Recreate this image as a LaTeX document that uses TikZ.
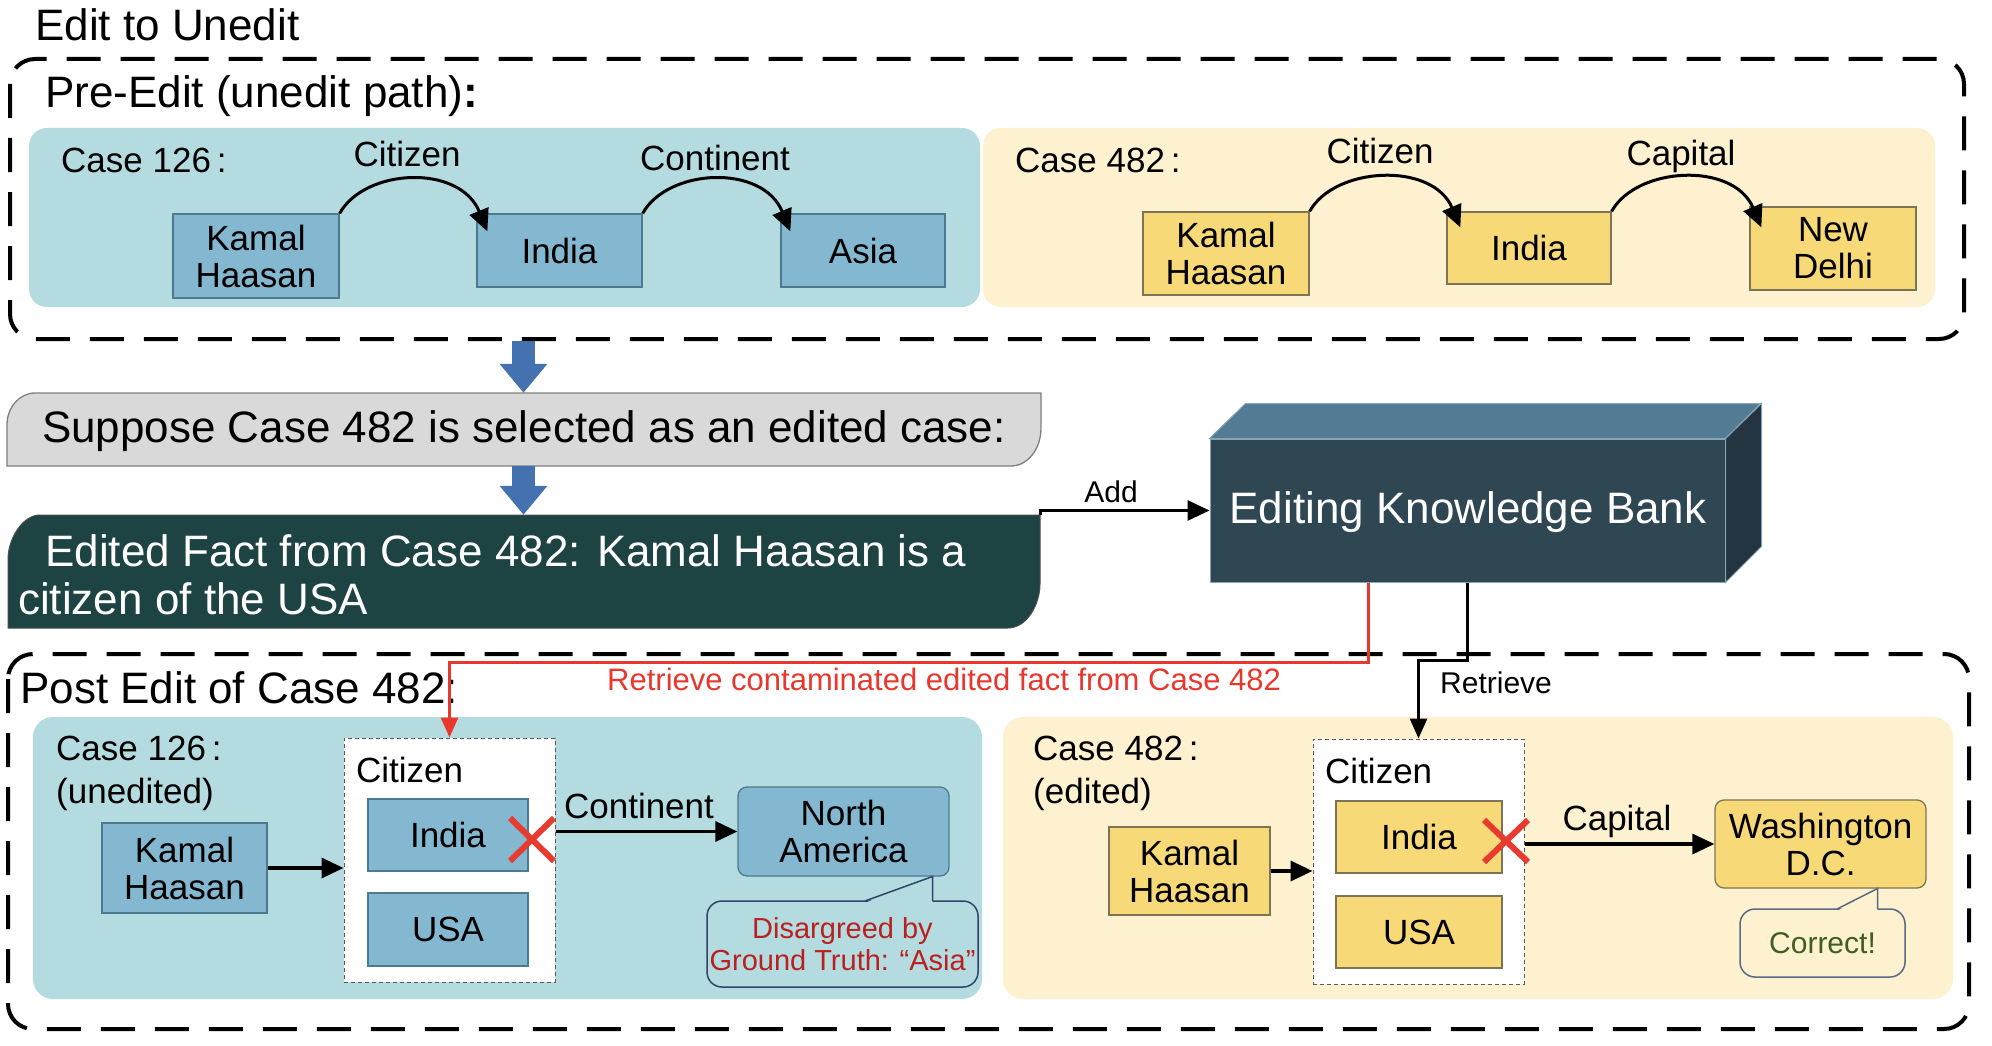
\documentclass[tikz,border=0pt]{standalone}
\usepackage{fontspec}
\setmainfont{Liberation Sans}
\usetikzlibrary{arrows.meta}
\definecolor{bluepanel}{HTML}{B4DCE0}
\definecolor{bluenode}{HTML}{84B8D0}
\definecolor{bluedge}{HTML}{4E7A90}
\definecolor{yelpanel}{HTML}{FDF1CF}
\definecolor{yelnode}{HTML}{F8D978}
\definecolor{yeledge}{HTML}{7F7355}
\definecolor{greyfill}{HTML}{D9D9D9}
\definecolor{greyedge}{HTML}{7F7F7F}
\definecolor{darkteal}{HTML}{1D4343}
\definecolor{cubefront}{HTML}{2F4653}
\definecolor{cubetop}{HTML}{537B94}
\definecolor{cuberight}{HTML}{233540}
\definecolor{arrowblue}{HTML}{4472B0}
\definecolor{lineredc}{HTML}{E8382D}
\definecolor{xred}{HTML}{E63B2E}
\definecolor{txtred}{HTML}{B8211F}
\definecolor{txtgreen}{HTML}{3E5E22}
\definecolor{callblue}{HTML}{2E4468}
\definecolor{callgrey}{HTML}{5A6A85}
\newcommand\myfbig{\fontsize{44}{50}\selectfont}
\newcommand\myfnode{\fontsize{35}{37}\selectfont}
\newcommand\myfcase{\fontsize{35}{43}\selectfont}
\newcommand\myflab{\fontsize{31}{34}\selectfont}
\newcommand\myfsmall{\fontsize{30}{32}\selectfont}
\newcommand\myfcall{\fontsize{29}{32}\selectfont}
\begin{document}
\begin{tikzpicture}[x=1pt,y=-1pt,
  bnode/.style={draw=bluedge, fill=bluenode, line width=1.3pt, inner sep=0pt, align=center, font=\myfnode},
  ynode/.style={draw=yeledge, fill=yelnode, line width=1.3pt, inner sep=0pt, align=center, font=\myfnode},
  dbox/.style={draw=black!65, fill=white, line width=1pt, dash pattern=on 4pt off 3pt, inner sep=0pt},
  outerdash/.style={line width=4pt, dash pattern=on 34pt off 20pt, rounded corners=25pt},
  arcarrow/.style={line width=3pt, -{Triangle[length=22pt,width=20pt]}},
  conn/.style={line width=3.5pt, -{Triangle[length=22pt,width=20pt]}},
  thinconn/.style={line width=3pt, -{Triangle[length=20pt,width=17pt]}},
  bigarrow/.style={line width=23pt, arrowblue, -{Triangle[length=29pt,width=46pt]}},
  txt/.style={inner sep=0pt},
  crossx/.style={xred, line width=6pt}
]
\useasboundingbox (0,0) rectangle (1992,1046);
\fill[white] (0,0) rectangle (1992,1046);

% ---------- title and top dashed frame ----------
\node[txt, anchor=base west, font=\myfbig] (title) at (35,41) {Edit to Unedit};
\draw[outerdash] (10,59) rectangle (1964,339);
\node[txt, anchor=base west, font=\myfbig] (pre) at (45,108) {Pre-Edit (unedit path)\textbf{:}};

% panels
\fill[bluepanel, rounded corners=18pt] (29,128) rectangle (980,307);
\fill[yelpanel, rounded corners=18pt] (983,128) rectangle (1935,307);

% top-left case
\node[txt, anchor=base west, font=\myfcase] (case126a) at (61,172) {Case 126\,:};
\node[bnode, minimum width=166pt, minimum height=84pt] (k1) at (256,256) {Kamal\\Haasan};
\node[bnode, minimum width=165pt, minimum height=73pt] (i1) at (559.5,250.5) {India};
\node[bnode, minimum width=164pt, minimum height=73pt] (a1) at (863,250.5) {Asia};
\draw[arcarrow] (k1.north east) .. controls +(25,-45) and +(-28,-68) .. ([xshift=11pt,yshift=-18pt]i1.north west);
\draw[arcarrow] (i1.north east) .. controls +(25,-45) and +(-28,-68) .. ([xshift=10pt,yshift=-18pt]a1.north west);
\node[txt, anchor=base, font=\myfnode] (cit1) at (407,167) {Citizen};
\node[txt, anchor=base, font=\myfnode] (cont1) at (715,171) {Continent};

% top-right case
\node[txt, anchor=base west, font=\myfcase] (case482a) at (1015,172) {Case 482\,:};
\node[ynode, minimum width=166pt, minimum height=83pt] (k2) at (1226,253.5) {Kamal\\Haasan};
\node[ynode, minimum width=164pt, minimum height=72pt] (i2) at (1529,248) {India};
\node[ynode, minimum width=166pt, minimum height=83pt] (n2) at (1833,248.5) {New\\Delhi};
\draw[arcarrow] (k2.north east) .. controls +(25,-45) and +(-28,-66) .. ([xshift=14pt,yshift=-16pt]i2.north west);
\draw[arcarrow] (i2.north east) .. controls +(25,-45) and +(-28,-66) .. ([xshift=12pt,yshift=-21pt]n2.north west);
\node[txt, anchor=base, font=\myfnode] (cit2) at (1380,164) {Citizen};
\node[txt, anchor=base, font=\myfnode] (cap2) at (1681,165) {Capital};

% ---------- suppose box ----------
\path[draw=greyedge, fill=greyfill, line width=1.3pt]
  (7,466) -- (7,425) .. controls (7,407.3) and (19.5,393) .. (35,393)
  -- (1041,393) -- (1041,428) .. controls (1041,449) and (1027.6,466) .. (1011,466) -- cycle;
\node[txt, minimum width=1034pt, minimum height=73pt] (sup) at (524,429.5) {};
\node[txt, anchor=base, font=\myfbig] (suptext) at (524,442) {Suppose Case 482 is selected as an edited case:};

% ---------- edited fact box ----------
\path[fill=darkteal, draw=black!70, line width=1pt]
  (8,628) -- (8,559) .. controls (8,539.3) and (22.3,515) .. (40,515)
  -- (1040,515) -- (1040,584) .. controls (1040,603.7) and (1027.3,628) .. (1008,628) -- cycle;
\node[txt, minimum width=1032pt, minimum height=113pt] (fact) at (524,571.5) {};
\node[txt, anchor=base west, font=\myfbig, text=white] (fact1) at (45,566) {Edited Fact from Case 482: Kamal Haasan is a};
\node[txt, anchor=base west, font=\myfbig, text=white] (fact2) at (18,614) {citizen of the USA};

% blue block arrows
\coordinate (ba1s) at (523.5,341);
\coordinate (ba2s) at (523.5,466);
\draw[bigarrow] (ba1s) -- (sup.north -| ba1s);
\draw[bigarrow] (ba2s) -- (fact.north -| ba2s);

% ---------- cube ----------
\node[fill=cubefront, draw=cubetop!70!white, line width=1pt, minimum width=515pt, minimum height=143pt, inner sep=0pt] (ekb) at (1467.5,510.5) {};
\path[fill=cubetop, draw=cubetop!70!white, line width=1pt] (ekb.north west) -- ++(36,-35) -- ++(515,0) -- (ekb.north east) -- cycle;
\path[fill=cuberight, draw=cubetop!70!white, line width=1pt] (ekb.north east) -- ++(36,-35) -- ++(0,143) -- (ekb.south east) -- cycle;
\node[txt, anchor=base, font=\myfbig, text=white] (ekbtext) at (1468,523) {Editing Knowledge Bank};

% Add arrow
\draw[conn, line width=3pt] (fact.north east) |- (ekb.west);
\node[txt, anchor=base, font=\myfsmall] (addlbl) at (1111,502) {Add};

% ---------- bottom frame ----------
\draw[outerdash] (8,654) rectangle (1969,1029);
\node[txt, anchor=base west, font=\myfbig] (post) at (20,703) {Post Edit of Case 482:};

\fill[bluepanel, rounded corners=20pt] (33,717) rectangle (982,999);
\fill[yelpanel, rounded corners=20pt] (1003,717) rectangle (1953,999);

% bottom-left
\node[txt, anchor=base west, font=\myfcase] (case126b) at (56,760) {Case 126\,:};
\node[txt, anchor=base west, font=\myfcase] (unedited) at (56,803) {(unedited)};
\node[dbox, minimum width=211pt, minimum height=244pt] (db1) at (449.5,860) {};
\node[txt, anchor=base west, font=\myfnode] (cit3) at (356,782) {Citizen};
\node[bnode, minimum width=160pt, minimum height=72pt] (i3) at (448,835) {India};
\node[bnode, minimum width=160pt, minimum height=73pt] (u3) at (448,929.5) {USA};
\node[bnode, minimum width=165pt, minimum height=90pt] (k3) at (184.5,868) {Kamal\\Haasan};
\node[bnode, rounded corners=9pt, minimum width=211pt, minimum height=89pt] (na) at (843.5,831.5) {North\\America};
\draw[conn] (k3.east) -- (k3.east -| db1.west);
\draw[conn] (na.west -| db1.east) -- (na.west);
\node[txt, anchor=base, font=\myfnode] (cont3) at (639,818) {Continent};
\draw[crossx] (510,818) -- (554,861);
\draw[crossx] (510,861) -- (554,818);
\node[draw=callblue, line width=1.5pt, rounded corners=15pt, minimum width=271pt, minimum height=86pt, inner sep=0pt, align=center, font=\myfcall, text=txtred] (call1) at (842.5,944) {Disargreed by\\Ground Truth: “Asia”};
\fill[bluepanel] (866,902.5) -- (932.5,877) -- (932.5,902.5) -- cycle;
\draw[callblue, line width=1.5pt] (865,901) -- (932.5,876.5) -- (932.5,901);

% bottom-right
\node[txt, anchor=base west, font=\myfcase] (case482b) at (1033,760) {Case 482\,:};
\node[txt, anchor=base west, font=\myfcase] (editedl) at (1033,803) {(edited)};
\node[dbox, minimum width=211pt, minimum height=245pt] (db2) at (1418.5,861.5) {};
\node[txt, anchor=base west, font=\myfnode] (cit4) at (1325,783) {Citizen};
\node[ynode, minimum width=166pt, minimum height=72pt] (i4) at (1419,837) {India};
\node[ynode, minimum width=166pt, minimum height=72pt] (u4) at (1419,932) {USA};
\node[ynode, minimum width=161pt, minimum height=88pt] (k4) at (1189.5,871) {Kamal\\Haasan};
\node[ynode, rounded corners=9pt, minimum width=211pt, minimum height=88pt] (wdc) at (1820.5,844) {Washington\\D.C.};
\draw[conn] (k4.east) -- (k4.east -| db2.west);
\draw[conn] (wdc.west -| db2.east) -- (wdc.west);
\node[txt, anchor=base, font=\myfnode] (cap4) at (1617,830) {Capital};
\draw[crossx] (1484,820) -- (1528,862);
\draw[crossx] (1484,862) -- (1528,820);
\node[draw=callgrey, line width=1.5pt, rounded corners=15pt, minimum width=165pt, minimum height=68pt, inner sep=0pt, font=\myfsmall, text=txtgreen] (call2) at (1822.5,943) {Correct!};
\fill[yelpanel] (1838,910.5) -- (1877.5,889) -- (1877.5,910.5) -- cycle;
\draw[callgrey, line width=1.5pt] (1837,909) -- (1877.5,888.5) -- (1877.5,909);

% ---------- retrieve connectors ----------
\draw[thinconn, lineredc] ([xshift=-99.5pt]ekb.south) |- ([yshift=75pt]db1.north) -- (db1.north);
\node[txt, anchor=base west, font=\myflab, text=lineredc] (rtxt) at (607,690) {Retrieve contaminated edited fact from Case 482};
\draw[thinconn] (ekb.south) |- ([yshift=78pt]db2.north) -- (db2.north);
\node[txt, anchor=base west, font=\myfsmall] (retr) at (1440,693) {Retrieve};
\end{tikzpicture}
\end{document}
